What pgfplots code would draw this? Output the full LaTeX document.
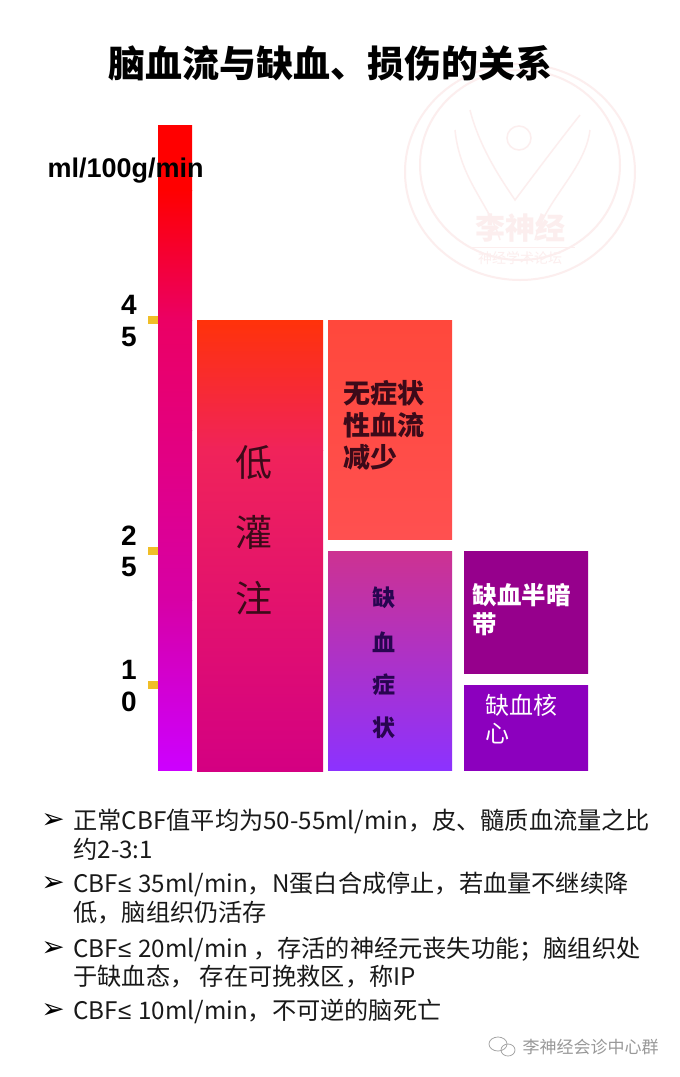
\documentclass[border=0pt]{standalone}
\usepackage{pgfplots}
\pgfplotsset{compat=1.18}
\usepackage{fontspec}
\setmainfont{Noto Sans CJK SC}
\newfontfamily\cjk{Noto Sans CJK SC}
\newfontfamily\lat{Liberation Sans}
\newfontfamily\sym{DejaVu Sans}
\definecolor{c1a}{RGB}{255,0,0}
\definecolor{c1b}{RGB}{235,0,100}
\definecolor{c1c}{RGB}{228,0,125}
\definecolor{c1d}{RGB}{215,0,165}
\definecolor{c1e}{RGB}{205,0,255}
\definecolor{c2a}{RGB}{255,50,10}
\definecolor{c2b}{RGB}{240,35,90}
\definecolor{c2c}{RGB}{212,0,130}
\definecolor{c3a}{RGB}{255,72,60}
\definecolor{c3b}{RGB}{255,80,80}
\definecolor{c4a}{RGB}{205,50,145}
\definecolor{c4b}{RGB}{140,50,255}
\definecolor{c5}{RGB}{150,0,140}
\definecolor{c6}{RGB}{140,0,190}
\definecolor{tickc}{RGB}{240,190,40}
\definecolor{wm}{RGB}{252,238,238}
\newcommand{\bx}[6]{\addplot[draw=none,top color=#5,bottom color=#6,forget plot] coordinates {(#1,#3) (#2,#3) (#2,#4) (#1,#4)} --cycle;}
\newcommand{\fs}[1]{\fontsize{#1}{#1}\selectfont}
\newcommand{\lesym}{{\lat ≤}\hspace{7pt}}
\begin{document}
\begin{tikzpicture}
\begin{axis}[
  width=680pt,height=1077pt,scale only axis,
  xmin=0,xmax=680,ymin=0,ymax=1077,y dir=reverse,
  hide axis,clip=true]
\addplot[draw=none,fill=white,forget plot] coordinates {(0,0) (680,0) (680,1077) (0,1077)} --cycle;
% watermark
\draw[wm,line width=2pt] (axis cs:520,172) ellipse [x radius=115,y radius=108];
\draw[wm,line width=2pt] (axis cs:520,165) ellipse [x radius=100,y radius=95];
\draw[wm,line width=1.5pt] (axis cs:519,138) circle [radius=12];
\draw[wm,line width=1.5pt] (axis cs:470,110) .. controls (axis cs:480,150) and (axis cs:505,185) .. (axis cs:515,200) .. controls (axis cs:530,180) and (axis cs:560,140) .. (axis cs:580,115);
\draw[wm,line width=1.5pt] (axis cs:455,130) .. controls (axis cs:460,180) and (axis cs:490,205) .. (axis cs:500,240);
\draw[wm,line width=1.5pt] (axis cs:590,130) .. controls (axis cs:585,170) and (axis cs:545,200) .. (axis cs:535,240);
\draw[wm,line width=1pt] (axis cs:470,247) -- (axis cs:575,247);
\node[wm] at (axis cs:520,228) {\cjk\bfseries\fs{30}李神经};
\node[wm] at (axis cs:520,258) {\cjk\fs{14}神经学术论坛};
% bars
\bx{158}{192}{125}{190}{c1a}{c1a}
\bx{158}{192}{190}{320}{c1a}{c1b}
\bx{158}{192}{320}{430}{c1b}{c1c}
\bx{158}{192}{430}{600}{c1c}{c1d}
\bx{158}{192}{600}{770}{c1d}{c1e}
\bx{197}{323}{320}{450}{c2a}{c2b}
\bx{197}{323}{450}{771}{c2b}{c2c}
\bx{328}{452}{320}{539}{c3a}{c3b}
\bx{328}{452}{551}{770}{c4a}{c4b}
\bx{464}{588}{551}{673}{c5}{c5}
\bx{464}{588}{685}{770}{c6}{c6}
% ticks
\addplot[draw=none,fill=tickc,forget plot] coordinates {(148,316) (158,316) (158,324) (148,324)} --cycle;
\addplot[draw=none,fill=tickc,forget plot] coordinates {(148,547) (158,547) (158,555) (148,555)} --cycle;
\addplot[draw=none,fill=tickc,forget plot] coordinates {(148,681) (158,681) (158,689) (148,689)} --cycle;
% title and unit
\node at (axis cs:330,63) {\cjk\bfseries\fs{37}脑血流与缺血、损伤的关系};
\node[anchor=west] at (axis cs:44,171) {\lat\bfseries\fs{27}ml/100g/min};
\foreach \yy/\tt in {305/4,337/5,536/2,567/5,670/1,702/0}{
  \edef\temp{\noexpand\node at (axis cs:129,\yy) {\noexpand\lat\noexpand\bfseries\noexpand\fs{28}\tt};}\temp}
% boxes text
\definecolor{dk}{RGB}{60,10,25}
\foreach \yy/\tt in {463/低,532/灌,598/注}{
  \edef\temp{\noexpand\node[text=dk] at (axis cs:254,\yy) {\noexpand\cjk\noexpand\fs{37}\tt};}\temp}
\node[anchor=west,text=dk] at (axis cs:340,393) {\cjk\bfseries\fs{27}无症状};
\node[anchor=west,text=dk] at (axis cs:340,425) {\cjk\bfseries\fs{27}性血流};
\node[anchor=west,text=dk] at (axis cs:340,457) {\cjk\bfseries\fs{27}减少};
\definecolor{dp}{RGB}{40,5,80}
\foreach \yy/\tt in {598/缺,642/血,685/症,728/状}{
  \edef\temp{\noexpand\node[text=dp] at (axis cs:384,\yy) {\noexpand\cjk\noexpand\bfseries\noexpand\fs{23}\tt};}\temp}
\node[anchor=west,text=white] at (axis cs:469,595) {\cjk\bfseries\fs{24.5}缺血半暗};
\node[anchor=west,text=white] at (axis cs:469,624) {\cjk\bfseries\fs{24.5}带};
\node[anchor=west,text=white] at (axis cs:482,705) {\cjk\fs{24}缺血核};
\node[anchor=west,text=white] at (axis cs:482,734) {\cjk\fs{24}心};
% bullets
\foreach \yy in {821,884,949,1011}{
  \edef\temp{\noexpand\node at (axis cs:53,\yy) {\noexpand\sym\noexpand\fs{28}\noexpand\char"27A2};}\temp}
\definecolor{tx}{RGB}{25,25,25}
\node[anchor=west,text=tx] at (axis cs:70,821) {\fs{24.2}正常CBF值平均为50-55ml/min，皮、髓质血流量之比};
\node[anchor=west,text=tx] at (axis cs:70,849) {\fs{24.2}约2-3:1};
\node[anchor=west,text=tx] at (axis cs:70,884) {\fs{24.2}CBF\lesym{}35ml/min，N蛋白合成停止，若血量不继续降};
\node[anchor=west,text=tx] at (axis cs:70,913) {\fs{24.2}低，脑组织仍活存};
\node[anchor=west,text=tx] at (axis cs:70,949) {\fs{24.2}CBF\lesym{}20ml/min ，存活的神经元丧失功能；脑组织处};
\node[anchor=west,text=tx] at (axis cs:70,977) {\fs{24.2}于缺血态， 存在可挽救区，称IP};
\node[anchor=west,text=tx] at (axis cs:70,1011) {\fs{24.2}CBF\lesym{}10ml/min，不可逆的脑死亡};
% footer
\draw[gray!70,line width=0.8pt] (axis cs:498,1044) ellipse [x radius=9,y radius=7];
\draw[gray!70,line width=0.8pt] (axis cs:508,1050) ellipse [x radius=7,y radius=6];
\node[anchor=west,text=gray!80] at (axis cs:519,1047) {\cjk\fs{17}李神经会诊中心群};
\end{axis}
\end{tikzpicture}
\end{document}
